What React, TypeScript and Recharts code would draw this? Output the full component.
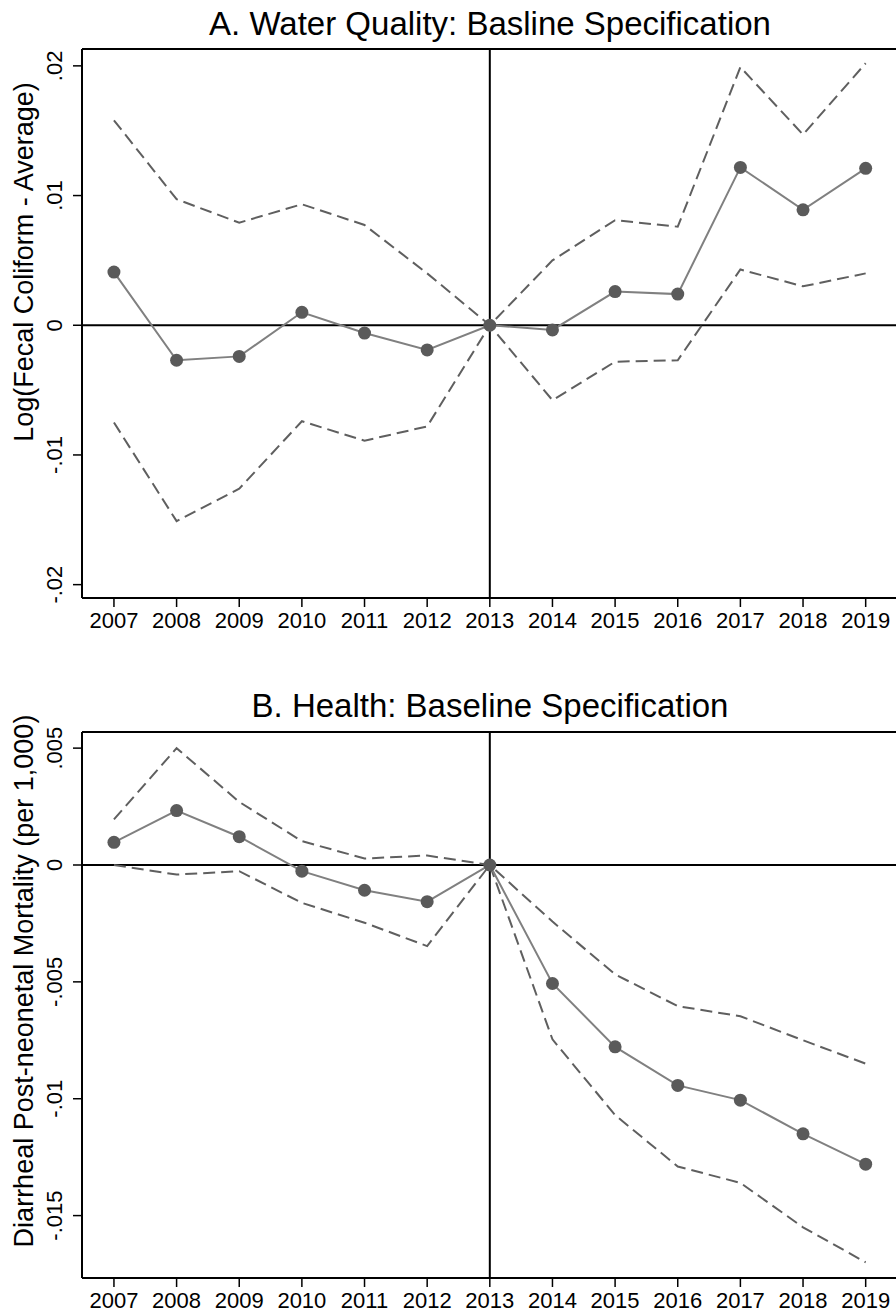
import { LineChart, Line, XAxis, YAxis, ReferenceLine } from 'recharts'

const years = [2007, 2008, 2009, 2010, 2011, 2012, 2013, 2014, 2015, 2016, 2017, 2018, 2019]

// Panel A: log fecal coliform
const waterPoint = [0.0041, -0.0027, -0.0024, 0.001, -0.0006, -0.0019, 0, -0.00036, 0.0026, 0.0024, 0.01217, 0.0089, 0.0121]
const waterUpper = [0.0158, 0.00972, 0.00791, 0.00933, 0.00773, 0.004, 0, 0.005, 0.0081, 0.0076, 0.0199, 0.0147, 0.0202]
const waterLower = [-0.0075, -0.0151, -0.0126, -0.0074, -0.0089, -0.0078, 0, -0.00578, -0.00281, -0.0027, 0.0043, 0.003, 0.004]
const waterTicks = [-0.02, -0.01, 0, 0.01, 0.02]

// Panel B: diarrheal post-neonatal mortality
const healthPoint = [0.00097, 0.00233, 0.00121, -0.000265, -0.00108, -0.00157, 0, -0.00507, -0.00778, -0.00943, -0.01006, -0.0115, -0.0128]
const healthUpper = [0.00195, 0.005, 0.0027, 0.00102, 0.000278, 0.000406, 0, -0.00242, -0.00468, -0.00604, -0.00647, -0.0075, -0.0085]
const healthLower = [0, -0.00041, -0.000265, -0.00162, -0.00247, -0.00347, 0, -0.00746, -0.0107, -0.0129, -0.0136, -0.0155, -0.017]
const healthTicks = [-0.015, -0.01, -0.005, 0, 0.005]

const FONT = '"Liberation Sans", Arial, Helvetica, sans-serif'

function fmt(v: number): string {
  if (v === 0) return '0'
  const s = String(Number(v.toFixed(4)))
  return s.replace('0.', '.')
}

function YTick(props: any) {
  const { y, payload } = props
  return (
    <text
      x={62}
      y={y}
      transform={`rotate(-90 62 ${y})`}
      textAnchor="middle"
      fontSize={22}
      fontFamily={FONT}
      fill="#000"
    >
      {fmt(payload.value)}
    </text>
  )
}

function build(point: number[], upper: number[], lower: number[]) {
  return years.map((yr, i) => ({ year: yr, point: point[i], upper: upper[i], lower: lower[i] }))
}

interface PanelProps {
  data: { year: number; point: number; upper: number; lower: number }[]
  domain: [number, number]
  ticks: number[]
  top: number
}

function Panel({ data, domain, ticks, top }: PanelProps) {
  return (
    <LineChart width={900} height={640} data={data} margin={{ top, right: 3, left: 0, bottom: 2 }}>
      <XAxis
        dataKey="year"
        type="number"
        domain={[2006.49, 2019.5]}
        ticks={years}
        allowDataOverflow
        axisLine={{ stroke: '#000', strokeWidth: 2 }}
        tickLine={{ stroke: '#000', strokeWidth: 1.5 }}
        tickSize={9}
        tickMargin={5}
        height={40}
        tick={{ fontSize: 22, fill: '#000', fontFamily: FONT }}
        interval={0}
      />
      <YAxis
        type="number"
        domain={domain}
        ticks={ticks}
        allowDataOverflow
        width={82}
        axisLine={{ stroke: '#000', strokeWidth: 2 }}
        tickLine={{ stroke: '#000', strokeWidth: 1.5 }}
        tickSize={9}
        tick={<YTick />}
        interval={0}
      />
      <ReferenceLine y={domain[1]} stroke="#000" strokeWidth={2} />
      <ReferenceLine y={0} stroke="#000" strokeWidth={2} />
      <ReferenceLine x={2013} stroke="#000" strokeWidth={2} />
      <Line
        dataKey="upper"
        type="linear"
        stroke="#5f5f5f"
        strokeWidth={2}
        strokeDasharray="12 6"
        dot={false}
        isAnimationActive={false}
      />
      <Line
        dataKey="lower"
        type="linear"
        stroke="#5f5f5f"
        strokeWidth={2}
        strokeDasharray="12 6"
        dot={false}
        isAnimationActive={false}
      />
      <Line
        dataKey="point"
        type="linear"
        stroke="#808080"
        strokeWidth={2}
        dot={{ r: 6.5, fill: '#5a5a5a', stroke: '#5a5a5a', strokeWidth: 0 }}
        isAnimationActive={false}
      />
    </LineChart>
  )
}

export default function App() {
  const waterData = build(waterPoint, waterUpper, waterLower)
  const healthData = build(healthPoint, healthUpper, healthLower)

  return (
    <div
      style={{
        position: 'absolute',
        left: 0,
        top: 0,
        width: 896,
        height: 1315,
        overflow: 'hidden',
        background: '#fff',
        fontFamily: FONT,
      }}
    >
      <div style={{ position: 'absolute', left: 0, top: 0 }}>
        <Panel data={waterData} domain={[-0.02103, 0.0213]} ticks={waterTicks} top={49} />
      </div>
      <div style={{ position: 'absolute', left: 0, top: 680 }}>
        <Panel data={healthData} domain={[-0.01767, 0.00569]} ticks={healthTicks} top={52} />
      </div>
      <svg
        width={896}
        height={1315}
        style={{ position: 'absolute', left: 0, top: 0, pointerEvents: 'none' }}
      >
        <text x={490} y={35} textAnchor="middle" fontSize={33} fontFamily={FONT} fill="#000">
          A. Water Quality: Basline Specification
        </text>
        <text x={490} y={717} textAnchor="middle" fontSize={33} fontFamily={FONT} fill="#000">
          B. Health: Baseline Specification
        </text>
        <text
          x={33}
          y={262}
          transform="rotate(-90 33 262)"
          textAnchor="middle"
          fontSize={27}
          fontFamily={FONT}
          fill="#000"
        >
          Log(Fecal Coliform - Average)
        </text>
        <text
          x={33}
          y={981}
          transform="rotate(-90 33 981)"
          textAnchor="middle"
          fontSize={27}
          fontFamily={FONT}
          fill="#000"
        >
          Diarrheal Post-neonetal Mortality (per 1,000)
        </text>
      </svg>
    </div>
  )
}
